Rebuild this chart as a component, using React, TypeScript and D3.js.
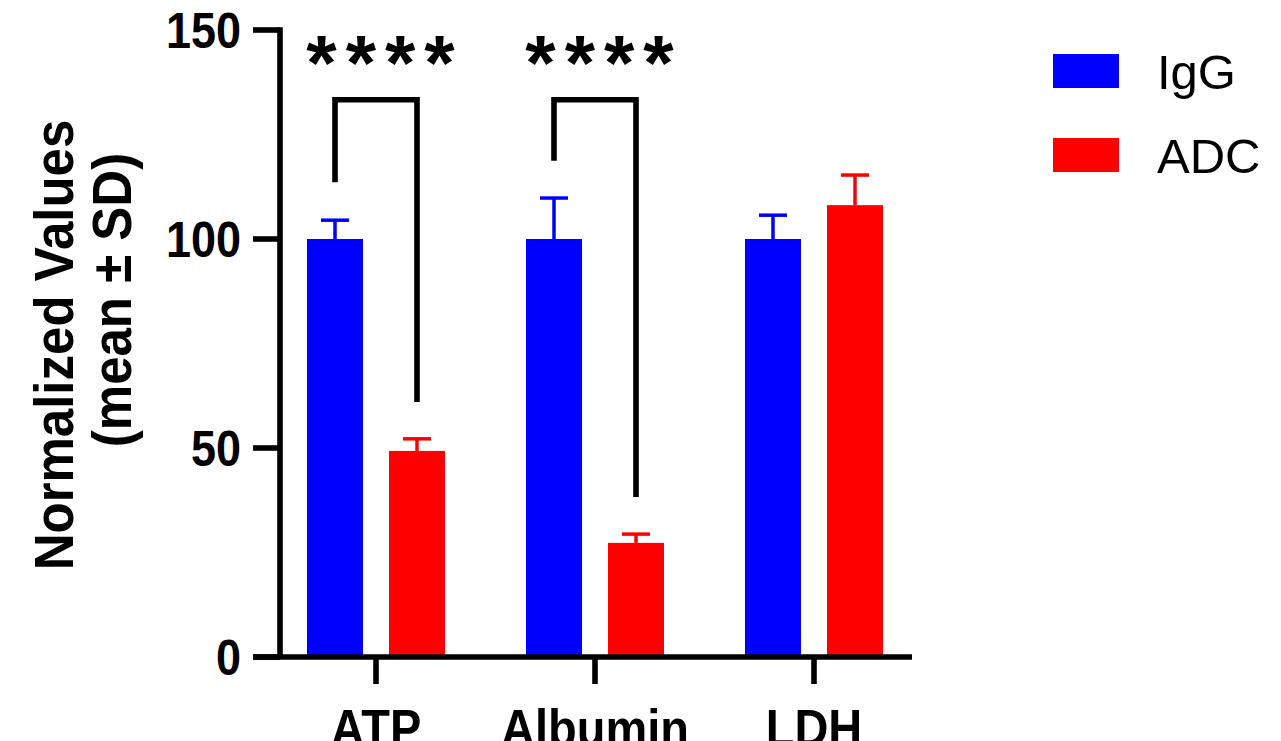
import * as d3 from "d3";

// data
const categories = ["ATP", "Albumin", "LDH"];
const seriesNames = ["IgG", "ADC"];
const seriesColors = ["#0000ff", "#ff0000"];
const iggMean = [100, 100, 100];
const iggSD = [4.5, 9.8, 5.7];
const adcMean = [49.3, 27.3, 108.1];
const adcSD = [2.9, 2.1, 7.2];
const yTicks = [0, 50, 100, 150];

// significance brackets: [category, top, left leg end, right leg end]
const brackets = [
  { cat: "ATP", top: 133.3, left: 113.6, right: 61.0, label: "****" },
  { cat: "Albumin", top: 133.3, left: 118.7, right: 38.3, label: "****" },
];

const W = 1281;
const H = 741;
const font = "'Liberation Sans', Arial, Helvetica, sans-serif";
const tall = 1.12; // the original's bold face is a bit taller than Arial

export default function App() {
  const y = d3.scaleLinear().domain([0, 150]).range([657, 30]);
  const x0 = d3.scaleBand().domain(categories).range([266.5, 923.5]).padding(0);
  const x1 = d3.scaleBand().domain(seriesNames).range([-69, 69]).paddingInner(0.317);
  const bw = x1.bandwidth();
  const center = (c: string) => (x0(c) as number) + x0.bandwidth() / 2;

  const means = [iggMean, adcMean];
  const sds = [iggSD, adcSD];

  const axisX = 280;
  const stroke = 5.6;

  return (
    <svg width={W} height={H} style={{ position: "absolute", left: 0, top: 0 }} fontFamily={font}>
      <rect width={W} height={H} fill="#fff" />

      {/* bars + error bars */}
      {seriesNames.map((s, si) =>
        categories.map((c, ci) => {
          const cx = center(c) + (x1(s) as number);
          const m = means[si][ci];
          const sd = sds[si][ci];
          const mid = cx + bw / 2;
          return (
            <g key={s + c}>
              <rect x={cx} y={y(m)} width={bw} height={y(0) - y(m)} fill={seriesColors[si]} />
              <line x1={mid} x2={mid} y1={y(m)} y2={y(m + sd)} stroke={seriesColors[si]} strokeWidth={3.5} />
              <line x1={mid - bw / 4} x2={mid + bw / 4} y1={y(m + sd)} y2={y(m + sd)} stroke={seriesColors[si]} strokeWidth={3.5} />
            </g>
          );
        })
      )}

      {/* axes */}
      <g stroke="#000" strokeWidth={stroke} fill="none">
        <line x1={axisX} x2={axisX} y1={y(150) - stroke / 2} y2={y(0)} />
        <line x1={253} x2={912} y1={y(0)} y2={y(0)} />
        {yTicks.map((t) => (
          <line key={t} x1={253} x2={axisX} y1={y(t)} y2={y(t)} />
        ))}
        {categories.map((c) => (
          <line key={c} x1={center(c)} x2={center(c)} y1={y(0)} y2={684} />
        ))}
      </g>

      {yTicks.map((t) => (
        <text key={t} transform={`translate(241,${y(t) + 17.5}) scale(1,${tall})`} textAnchor="end" fontSize={45} fontWeight="bold">
          {t}
        </text>
      ))}
      {categories.map((c) => (
        <text key={c} transform={`translate(${center(c)},746) scale(1,${tall})`} textAnchor="middle" fontSize={47} fontWeight="bold">
          {c}
        </text>
      ))}

      {/* y title */}
      <text transform={`translate(73,345) rotate(-90) scale(1,1.1)`} textAnchor="middle" fontSize={51} fontWeight="bold">
        Normalized Values
      </text>
      <text transform={`translate(131,300) rotate(-90) scale(1,1.1)`} textAnchor="middle" fontSize={51} fontWeight="bold">
        (mean ± SD)
      </text>

      {/* significance brackets */}
      {brackets.map((b) => {
        const lx = center(b.cat) + (x1("IgG") as number) + bw / 2;
        const rx = center(b.cat) + (x1("ADC") as number) + bw / 2;
        const path = d3.path();
        path.moveTo(lx, y(b.left));
        path.lineTo(lx, y(b.top));
        path.lineTo(rx, y(b.top));
        path.lineTo(rx, y(b.right));
        return (
          <g key={b.cat}>
            <path d={path.toString()} fill="none" stroke="#000" strokeWidth={stroke} strokeLinejoin="miter" />
            <text x={(lx + rx) / 2 + 9} y={90} textAnchor="middle" fontSize={78} fontWeight="bold" letterSpacing={9}>
              {b.label}
            </text>
          </g>
        );
      })}

      {/* legend */}
      {seriesNames.map((s, i) => (
        <g key={s} transform={`translate(1053,${54 + i * 84})`}>
          <rect width={66} height={34} fill={seriesColors[i]} />
          <text x={104} y={35} fontSize={49}>
            {s}
          </text>
        </g>
      ))}
    </svg>
  );
}
